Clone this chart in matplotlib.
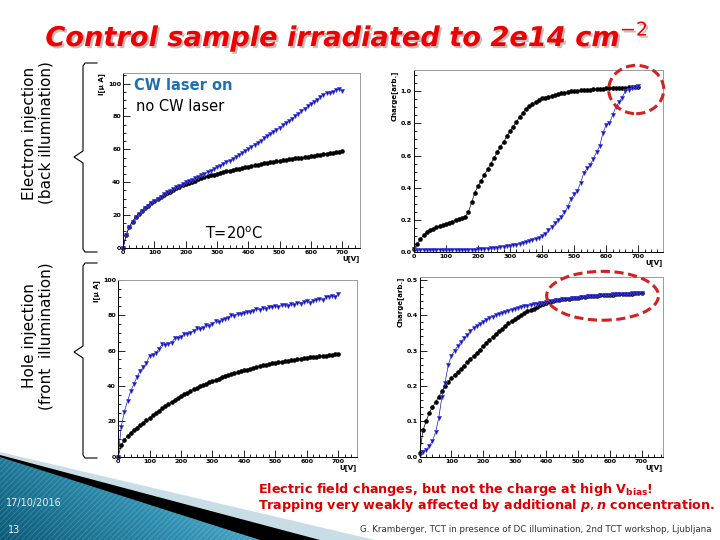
import numpy as np
import matplotlib
matplotlib.use('Agg')
import matplotlib.pyplot as plt
import matplotlib.patheffects as pe
from matplotlib.patches import Ellipse, Polygon
from matplotlib.colors import LinearSegmentedColormap
from matplotlib.ticker import MultipleLocator

# bias voltage [V], 10 V steps
volts = np.arange(0, 701, 10)

# electron injection (back illumination) - current [uA]
e_cur_dark = [0, 8, 13, 16, 18.5, 20.5, 22.3, 24, 25.6, 27.1,
              28.5, 29.8, 31, 32.2, 33.3, 34.3, 35.3, 36.2, 37.1, 38,
              38.8, 39.6, 40.3, 41, 41.7, 42.3, 42.9, 43.5, 44.1, 44.6,
              45.1, 45.6, 46.1, 46.6, 47, 47.4, 47.8, 48.2, 48.6, 49,
              49.4, 49.8, 50.2, 50.6, 51, 51.4, 51.7, 52, 52.3, 52.6,
              52.9, 53.2, 53.5, 53.8, 54.1, 54.4, 54.7, 55, 55.3, 55.6,
              55.9, 56.2, 56.5, 56.8, 57.1, 57.4, 57.7, 58, 58.3, 58.6, 58.9]
e_cur_cw = [0, 8, 13, 16, 18.5, 20.5, 22.3, 24, 25.6, 27.1,
            28.5, 29.9, 31.2, 32.5, 33.7, 34.8, 35.9, 36.9, 37.9, 38.9,
            39.8, 40.7, 41.6, 42.5, 43.4, 44.3, 45.2, 46.1, 47, 47.9,
            49, 50, 51, 52, 53, 54.1, 55.2, 56.3, 57.5, 58.8,
            60.3, 61.5, 62.8, 64, 65.3, 66.6, 67.9, 69.2, 70.5, 71.8,
            73.1, 74.5, 75.9, 77.3, 78.7, 80.1, 81.6, 83.1, 84.6, 86.1,
            87.6, 89, 90.3, 91.6, 93, 94.5, 94, 95, 96, 96.5, 95.5]

# electron injection - charge [arb.]
e_chg_dark = [0.02, 0.05, 0.08, 0.105, 0.125, 0.135, 0.145, 0.155, 0.163, 0.17,
              0.177, 0.184, 0.19, 0.197, 0.203, 0.21, 0.22, 0.25, 0.31, 0.37,
              0.41, 0.445, 0.48, 0.515, 0.55, 0.585, 0.62, 0.655, 0.685, 0.72,
              0.75, 0.78, 0.81, 0.84, 0.865, 0.89, 0.905, 0.92, 0.935, 0.945,
              0.955, 0.96, 0.966, 0.972, 0.977, 0.982, 0.987, 0.991, 0.995, 0.998,
              1.0, 1.003, 1.005, 1.007, 1.009, 1.01, 1.012, 1.013, 1.015, 1.016,
              1.017, 1.018, 1.019, 1.02, 1.021, 1.022, 1.022, 1.023, 1.024, 1.025, 1.025]
e_chg_cw = [0.02, 0.015, 0.016, 0.014, 0.015, 0.013, 0.015, 0.014, 0.016, 0.013,
            0.015, 0.014, 0.016, 0.015, 0.013, 0.015, 0.016, 0.014, 0.015, 0.016,
            0.017, 0.018, 0.02, 0.022, 0.024, 0.026, 0.028, 0.031, 0.034, 0.037,
            0.04, 0.043, 0.047, 0.051, 0.056, 0.061, 0.067, 0.074, 0.082, 0.091,
            0.1, 0.115, 0.135, 0.155, 0.18, 0.2, 0.22, 0.25, 0.28, 0.33,
            0.36, 0.38, 0.43, 0.49, 0.52, 0.54, 0.58, 0.62, 0.66, 0.74,
            0.79, 0.8, 0.85, 0.9, 0.93, 0.96, 1.0, 1.01, 1.02, 1.025, 1.03]

# hole injection (front illumination) - current [uA]
h_cur_dark = [0, 6.5, 9.5, 11.8, 13.5, 15, 16.4, 17.8, 19.2, 20.6,
              22, 23.4, 24.8, 26.1, 27.3, 28.5, 29.7, 30.9, 32, 33.1,
              34.2, 35.2, 36.2, 37.2, 38.1, 39, 39.8, 40.6, 41.4, 42.1,
              42.8, 43.5, 44.2, 44.9, 45.5, 46.1, 46.7, 47.3, 47.8, 48.3,
              48.8, 49.3, 49.8, 50.3, 50.8, 51.2, 51.6, 52, 52.4, 52.8,
              53.1, 53.4, 53.7, 54, 54.3, 54.6, 54.9, 55.2, 55.5, 55.8,
              56, 56.2, 56.4, 56.6, 56.8, 57, 57.2, 57.4, 57.6, 57.8, 58]
h_cur_cw = [0, 17, 25.5, 31.5, 37, 41, 45, 48.5, 50.5, 53,
            57, 57.5, 58.5, 61, 63.5, 63, 63.5, 64.5, 67, 67,
            67.5, 69.5, 69.5, 70, 71, 72.5, 72, 73, 74.5, 74,
            75, 76.5, 76, 77, 78, 78.5, 80, 79.5, 80.5, 80.5,
            81, 82, 81.5, 82.5, 83.5, 83, 84, 83.5, 84.5, 84.5,
            85, 84.5, 85.5, 86, 85, 86.5, 86, 87, 86.5, 87.5,
            88, 87, 88, 88.5, 89, 88.5, 90, 90.5, 91, 90, 92]

# hole injection - charge [arb.]
h_chg_dark = [0.01, 0.075, 0.1, 0.125, 0.14, 0.155, 0.17, 0.185, 0.2, 0.212,
              0.222, 0.231, 0.24, 0.249, 0.258, 0.267, 0.276, 0.285, 0.294, 0.303,
              0.312, 0.321, 0.33, 0.339, 0.347, 0.355, 0.362, 0.37, 0.377, 0.384,
              0.39, 0.396, 0.401, 0.406, 0.411, 0.415, 0.419, 0.423, 0.428, 0.432,
              0.436, 0.438, 0.44, 0.442, 0.443, 0.445, 0.446, 0.447, 0.448, 0.449,
              0.45, 0.451, 0.452, 0.453, 0.454, 0.454, 0.455, 0.456, 0.456, 0.457,
              0.458, 0.458, 0.459, 0.459, 0.46, 0.46, 0.461, 0.461, 0.462, 0.462, 0.463]
h_chg_cw = [0.005, 0.015, 0.02, 0.03, 0.045, 0.07, 0.11, 0.17, 0.21, 0.26,
            0.285, 0.3, 0.313, 0.325, 0.335, 0.345, 0.355, 0.363, 0.37, 0.376,
            0.382, 0.387, 0.392, 0.396, 0.4, 0.404, 0.407, 0.41, 0.413, 0.416,
            0.419, 0.421, 0.423, 0.425, 0.427, 0.429, 0.431, 0.433, 0.435, 0.436,
            0.437, 0.439, 0.44, 0.442, 0.443, 0.445, 0.446, 0.447, 0.448, 0.449,
            0.45, 0.451, 0.452, 0.453, 0.454, 0.455, 0.455, 0.456, 0.457, 0.457,
            0.458, 0.459, 0.459, 0.46, 0.46, 0.461, 0.461, 0.462, 0.462, 0.463, 0.463]

BLUE = '#1414c8'

fig = plt.figure(figsize=(7.2, 5.4), dpi=100)

# background layer in pixel coordinates (decorations, braces, labels)
bg = fig.add_axes([0, 0, 1, 1], zorder=-1)
bg.axis('off')

# bottom-left slide decoration
bg.add_patch(Polygon([(0, 452), (375, 540), (0, 540)], closed=True, fc='#c9dde6', ec='none'))
bg.add_patch(Polygon([(0, 455), (320, 540), (0, 540)], closed=True, fc='black', ec='none'))
teal = Polygon([(0, 457), (260, 540), (0, 540)], closed=True, fc='none', ec='none')
bg.add_patch(teal)
gx, gy = np.meshgrid(np.linspace(0, 1, 200), np.linspace(0, 1, 60))
cmap = LinearSegmentedColormap.from_list('teal', ['#0a5a78', '#2f8fb0', '#6cc3de'])
img = bg.imshow(gx * 0.7 + (1 - gy) * 0.3, extent=(0, 260, 540, 457), cmap=cmap,
                aspect='auto', zorder=1)
img.set_clip_path(teal)
plt.rcParams['hatch.linewidth'] = 0.6
bg.add_patch(Polygon([(0, 457), (260, 540), (0, 540)], closed=True, fc='none',
                     ec=(1, 1, 1, 0.18), lw=0, hatch='//////', zorder=2))
bg.set_xlim(0, 720)
bg.set_ylim(540, 0)

bg.text(6, 503, '17/10/2016', fontsize=7, color='#e8eef2', va='center', zorder=3)
bg.text(8, 530, '13', fontsize=7, color='#e8eef2', va='center', zorder=3)

# braces
for top, bot, tip in [(63, 252, 157), (263, 458, 352)]:
    bg.plot([97, 85, 83, 83, 74, 83, 83, 85, 97],
            [top, top, top + 3, tip - 6, tip, tip + 6, bot - 3, bot, bot],
            color='black', lw=0.8)

bg.text(38, 133, 'Electron injection\n(back illumination)', rotation=90, fontsize=11,
        ha='center', va='center', linespacing=1.15)
bg.text(38, 336, 'Hole injection\n(front  illumination)', rotation=90, fontsize=11,
        ha='center', va='center', linespacing=1.15)

# title
bg.text(347, 37, 'Control sample irradiated to 2e14 cm$^{-2}$', fontsize=19.6,
        color='#ee0000', fontweight='bold', fontstyle='italic', ha='center', va='center',
        path_effects=[pe.withSimplePatchShadow(offset=(1.5, -1.5), shadow_rgbFace='#999999',
                                               alpha=0.6)])

# bottom comments
bg.text(258, 489, 'Electric field changes, but not the charge at high V$_{\\mathbf{bias}}$!',
        fontsize=9.2, color='#dd0000', fontweight='bold', va='center')
bg.text(258, 506, 'Trapping very weakly affected by additional $\\boldsymbol{p,n}$ concentration.',
        fontsize=9.2, color='#dd0000', fontweight='bold', va='center')
bg.text(712, 530, 'G. Kramberger, TCT in presence of DC illumination, 2nd TCT workshop, Ljubljana',
        fontsize=6.3, color='#333333', ha='right', va='center')


def root_axes(rect, ymax, ymaj, ymin, ylabel, xmax):
    ax = fig.add_axes(rect)
    ax.set_xlim(0, xmax)
    ax.set_ylim(0, ymax)
    ax.xaxis.set_major_locator(MultipleLocator(100))
    ax.xaxis.set_minor_locator(MultipleLocator(20))
    ax.yaxis.set_major_locator(MultipleLocator(ymaj))
    ax.yaxis.set_minor_locator(MultipleLocator(ymin))
    ax.tick_params(which='both', direction='in', top=False, right=False,
                   labelsize=4.6, pad=1.5, width=0.6)
    ax.tick_params(which='major', length=5)
    ax.tick_params(which='minor', length=2.5)
    for lbl in ax.get_xticklabels() + ax.get_yticklabels():
        lbl.set_fontweight('bold')
    for s in ['top', 'right']:
        ax.spines[s].set_color('#9a9a9a')
    for s in ax.spines.values():
        s.set_linewidth(0.7)
    ax.set_xlabel('U[V]', loc='right', fontsize=5, fontweight='bold', labelpad=0)
    ax.set_ylabel(ylabel, loc='top', fontsize=5, fontweight='bold', labelpad=2)
    return ax


def draw(ax, dark, cw):
    ax.plot(volts, dark, color='black', marker='o', ms=2.3, lw=0.5, clip_on=False)
    ax.plot(volts, cw, color=BLUE, marker='v', ms=3.2, lw=0.5, mew=0.3,
            mec='#6060e0', clip_on=False)


ax1 = root_axes([0.171, 0.541, 0.329, 0.324], 106.5, 20, 5, 'I[\u03bc A]', 757)
draw(ax1, e_cur_dark, e_cur_cw)
ax1.text(0.045, 0.93, 'CW laser on', transform=ax1.transAxes, fontsize=10.5,
         color='#1f6fb4', fontweight='bold', va='center')
ax1.text(0.055, 0.81, 'no CW laser', transform=ax1.transAxes, fontsize=10.5,
         color='black', va='center')
ax1.text(0.47, 0.08, 'T=20$^{\\rm o}$C', transform=ax1.transAxes, fontsize=10.5,
         ha='center', va='center')

ax2 = root_axes([0.575, 0.533, 0.346, 0.337], 1.13, 0.2, 0.05, 'Charge[arb.]', 778)
draw(ax2, e_chg_dark, e_chg_cw)
ax2.add_patch(Ellipse((694, 1.01), 172, 0.3, fill=False, ec='#d42020', lw=2.2,
                      ls=(0, (3, 1.5)), clip_on=False, zorder=5))

ax3 = root_axes([0.164, 0.154, 0.332, 0.328], 100, 20, 5, 'I[\u03bc A]', 760)
draw(ax3, h_cur_dark, h_cur_cw)

ax4 = root_axes([0.583, 0.154, 0.3375, 0.333], 0.508, 0.1, 0.02, 'Charge[arb.]', 767)
draw(ax4, h_chg_dark, h_chg_cw)
ax4.add_patch(Ellipse((577, 0.455), 353, 0.138, fill=False, ec='#d42020', lw=2.2,
                      ls=(0, (3, 1.5)), clip_on=False, zorder=5))

fig.savefig('out.png', dpi=100)
